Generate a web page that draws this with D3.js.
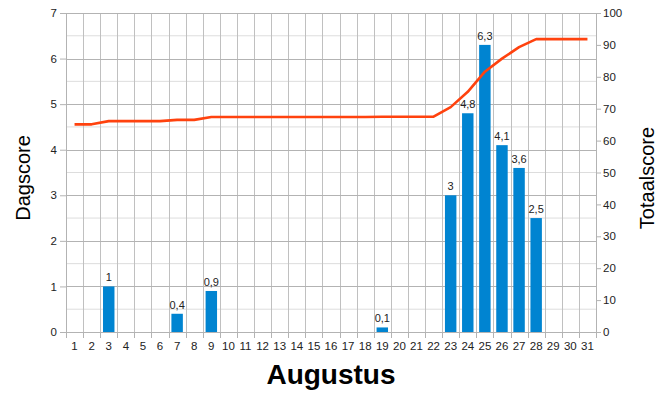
<!DOCTYPE html>
<html><head><meta charset="utf-8">
<script src="https://cdn.jsdelivr.net/npm/d3@7"></script>
<style>body{margin:0;background:#fff}svg{display:block;font-family:"Liberation Sans",Arial,sans-serif}</style>
</head><body><svg id="c" width="670" height="397"></svg>
<script>
const days = d3.range(1, 32);
const dagscore = [0,0,1,0,0,0,0.4,0,0.9,0,0,0,0,0,0,0,0,0,0.1,0,0,0,3,4.8,6.3,4.1,3.6,2.5,0,0,0];
const totaalscore = [65.1,65.1,66.1,66.1,66.1,66.1,66.5,66.5,67.4,67.4,67.4,67.4,67.4,67.4,67.4,67.4,67.4,67.4,67.5,67.5,67.5,67.5,70.5,75.3,81.6,85.7,89.3,91.8,91.8,91.8,91.8];
const leftTicks = [0,1,2,3,4,5,6,7];
const rightTicks = [0,10,20,30,40,50,60,70,80,90,100];

const svg = d3.select("#c");
const L = 66, R = 596, T = 13, B = 332;
const x = d3.scaleBand().domain(days).range([L, R]).paddingInner(0.33).paddingOuter(0.165);
const xb = d3.scaleLinear().domain([0, 31]).range([L, R]);
const yL = d3.scaleLinear().domain([0, 7]).range([B, T]);
const yR = d3.scaleLinear().domain([0, 100]).range([B, T]);

// minor horizontal grid
svg.append("g").selectAll("line").data(d3.range(0.5, 7, 1)).join("line")
  .attr("x1", L).attr("x2", R).attr("y1", d => yL(d)).attr("y2", d => yL(d))
  .attr("stroke", "#dddddd").attr("stroke-width", 1);
// vertical grid
svg.append("g").selectAll("line").data(d3.range(1, 31)).join("line")
  .attr("x1", d => Math.round(xb(d)) + 0.5).attr("x2", d => Math.round(xb(d)) + 0.5)
  .attr("y1", T).attr("y2", B).attr("stroke", "#c0c0c0");
// major horizontal grid
svg.append("g").selectAll("line").data(leftTicks).join("line")
  .attr("x1", L).attr("x2", R).attr("y1", d => Math.round(yL(d)) + 0.5).attr("y2", d => Math.round(yL(d)) + 0.5)
  .attr("stroke", "#b3b3b3");

// axes
const axL = svg.append("g").attr("transform", `translate(${L},0)`)
  .call(d3.axisLeft(yL).tickValues(leftTicks).tickSize(6).tickPadding(3).tickFormat(d3.format("d")));
const axR = svg.append("g").attr("transform", `translate(${R},0)`)
  .call(d3.axisRight(yR).tickValues(rightTicks).tickSize(5).tickPadding(2).tickFormat(d3.format("d")));
const axB = svg.append("g").attr("transform", `translate(0,${B})`)
  .call(d3.axisBottom(x).tickSize(0).tickPadding(10));
svg.append("g").selectAll("line").data(d3.range(0, 32)).join("line")
  .attr("x1", d => Math.round(xb(d)) + 0.5).attr("x2", d => Math.round(xb(d)) + 0.5)
  .attr("y1", B).attr("y2", B + 6).attr("stroke", "#b3b3b3");
[axL, axR, axB].forEach(a => {
  a.selectAll("path.domain").attr("stroke", "#b3b3b3");
  a.selectAll(".tick line").attr("stroke", "#b3b3b3");
  a.selectAll("text").attr("font-size", 11.5).attr("fill", "#222").attr("font-family", "Liberation Sans, Arial, sans-serif");
});
axB.select("path.domain").remove();
svg.append("line").attr("x1", L).attr("x2", R).attr("y1", B + 0.5).attr("y2", B + 0.5).attr("stroke", "#b3b3b3");

// bars
const bd = days.map((d, i) => ({d, v: dagscore[i]})).filter(o => o.v > 0);
svg.append("g").selectAll("rect").data(bd).join("rect")
  .attr("x", o => x(o.d)).attr("width", x.bandwidth())
  .attr("y", o => yL(o.v)).attr("height", o => B - yL(o.v))
  .attr("fill", "#0084d1");
svg.append("g").selectAll("text").data(bd).join("text")
  .attr("x", o => x(o.d) + x.bandwidth() / 2).attr("y", o => yL(o.v) - 5)
  .attr("text-anchor", "middle").attr("font-size", 11).attr("fill", "#222")
  .text(o => String(o.v).replace(".", ","));

// line
const line = d3.line().x((v, i) => x(days[i]) + x.bandwidth() / 2).y(v => yR(v));
svg.append("path").datum(totaalscore).attr("d", line)
  .attr("fill", "none").attr("stroke", "#ff420e").attr("stroke-width", 2.6).attr("stroke-linejoin", "round");

// titles
svg.append("text").attr("transform", "translate(30,178) rotate(-90)").attr("text-anchor", "middle")
  .attr("font-size", 20).attr("fill", "#000").text("Dagscore");
svg.append("text").attr("transform", "translate(654,178) rotate(-90)").attr("text-anchor", "middle")
  .attr("font-size", 20).attr("fill", "#000").text("Totaalscore");
svg.append("text").attr("x", 331).attr("y", 384).attr("text-anchor", "middle")
  .attr("font-size", 28).attr("font-weight", "bold").attr("fill", "#000").text("Augustus");
</script></body></html>
